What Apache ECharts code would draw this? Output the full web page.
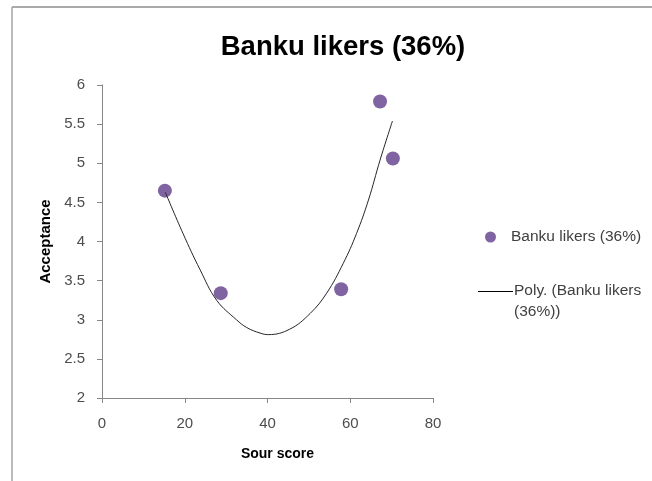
<!DOCTYPE html>
<html>
<head>
<meta charset="utf-8">
<script src="https://cdn.jsdelivr.net/npm/echarts@6/dist/echarts.min.js"></script>
<style>html,body{margin:0;padding:0;background:#fff}#c{width:652px;height:481px}</style>
</head>
<body>
<div id="c"></div>
<script>
var titleText = 'Banku likers (36%)';
var seriesName = 'Banku likers (36%)';
var trendName = 'Poly. (Banku likers\n(36%))';
var xAxisName = 'Sour score';
var yAxisName = 'Acceptance';
var sourScore = [15.2, 28.7, 57.8, 67.2, 70.3];
var acceptance = [4.65, 3.34, 3.39, 5.79, 5.06];
var trendX = [15.3, 19.6, 23.7, 27.7, 32.5, 35.0, 38.2, 40.2, 45.4, 50.3, 54.3, 58.3, 61.5, 64.4, 67.2, 70.2];
var trendY = [4.63, 4.10, 3.64, 3.25, 3.00, 2.90, 2.83, 2.81, 2.88, 3.08, 3.34, 3.72, 4.10, 4.53, 5.04, 5.54];

var pts = sourScore.map(function (x, i) { return [x, acceptance[i]]; });
var trend = trendX.map(function (x, i) { return [x, trendY[i]]; });
var font = '"Liberation Sans", Arial, sans-serif';

var chart = echarts.init(document.getElementById('c'), null, {renderer: 'canvas'});
chart.setOption({
  animation: false,
  backgroundColor: '#fff',
  textStyle: {fontFamily: font},
  title: {
    text: titleText, left: 338, top: 28, textAlign: 'center',
    textStyle: {fontFamily: font, fontSize: 27.5, fontWeight: 'bold', color: '#000'}
  },
  grid: {left: 102, right: 219, top: 85, bottom: 83},
  xAxis: {
    type: 'value', min: 0, max: 80, interval: 20,
    name: xAxisName, nameLocation: 'middle', nameGap: 49,
    nameTextStyle: {fontFamily: font, fontSize: 14, fontWeight: 'bold', color: '#000', padding: [0, 0, 0, 20]},
    axisLine: {show: true, onZero: false, lineStyle: {color: '#868686', width: 1}},
    axisTick: {show: true, length: 5, lineStyle: {color: '#868686'}},
    axisLabel: {fontSize: 15, color: '#4d4d4d', margin: 18, fontFamily: font},
    splitLine: {show: false}
  },
  yAxis: {
    type: 'value', min: 2, max: 6, interval: 0.5,
    name: yAxisName, nameLocation: 'middle', nameGap: 48, nameRotate: 90,
    nameTextStyle: {fontFamily: font, fontSize: 15, fontWeight: 'bold', color: '#000'},
    axisLine: {show: true, onZero: false, lineStyle: {color: '#868686', width: 1}},
    axisTick: {show: true, length: 5, lineStyle: {color: '#868686'}},
    axisLabel: {fontSize: 15, color: '#4d4d4d', margin: 17, fontFamily: font},
    splitLine: {show: false}
  },
  legend: [
    {
      left: 480, top: 224, orient: 'vertical', itemWidth: 11, itemHeight: 11, itemGap: 0,
      data: [{name: seriesName, icon: 'circle'}],
      textStyle: {fontFamily: font, fontSize: 15.5, color: '#404040', padding: [0, 0, 0, 10]}
    },
    {
      left: 473, top: 275, orient: 'vertical', itemWidth: 35, itemHeight: 20,
      data: [{
        name: trendName,
        icon: 'path://M0,0L35,0L35,1L0,1Z M0,19.99L0.01,19.99L0.01,20L0,20Z',
        itemStyle: {color: '#000'}
      }],
      textStyle: {fontFamily: font, fontSize: 15.5, color: '#404040', lineHeight: 21, padding: [0, 0, 0, -4]},
      selectedMode: false
    }
  ],
  graphic: [
    {type: 'line', shape: {x1: 12, y1: 7, x2: 652, y2: 7}, style: {stroke: '#8c8c8c', lineWidth: 1.5}},
    {type: 'line', shape: {x1: 12, y1: 7, x2: 12, y2: 481}, style: {stroke: '#a6a6a6', lineWidth: 1.5}}
  ],
  series: [
    {
      name: trendName, type: 'line', data: trend, smooth: 0.4, showSymbol: false,
      lineStyle: {color: '#262626', width: 1}, itemStyle: {color: '#000'}, z: 3
    },
    {
      name: seriesName, type: 'scatter', data: pts, symbol: 'circle', symbolSize: 14,
      itemStyle: {color: '#8064a2', opacity: 1}, z: 2
    }
  ]
});
</script>
</body>
</html>
